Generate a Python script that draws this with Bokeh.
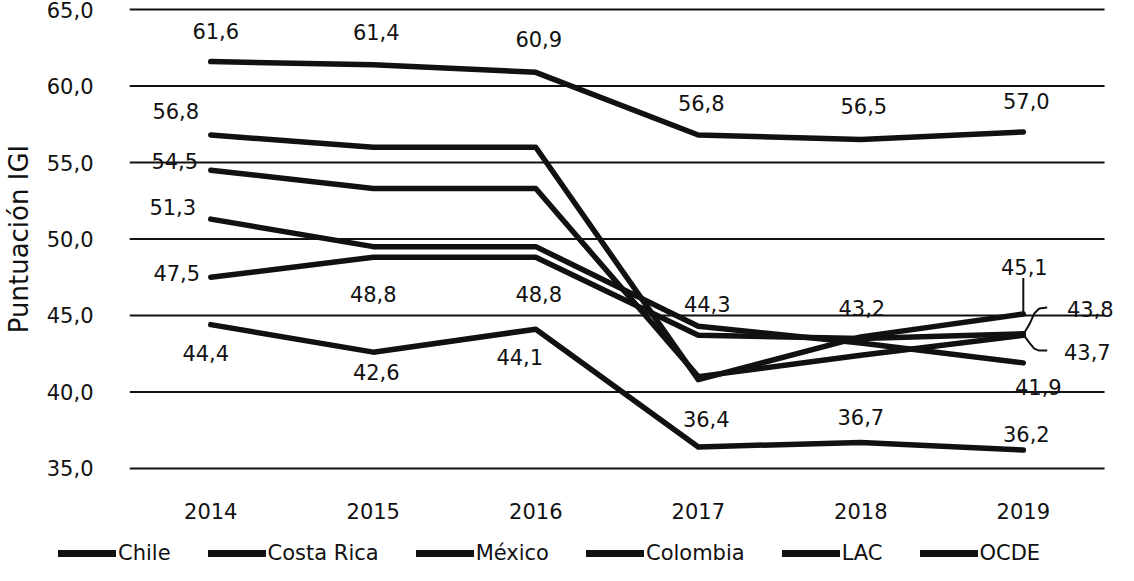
from bokeh.plotting import figure
from bokeh.layouts import column, row
from bokeh.models import (Range1d, FixedTicker, ColumnDataSource, LabelSet,
                          Legend, LegendItem)
from bokeh.core.properties import value
from bokeh.embed import file_html
from bokeh.resources import INLINE

# ---------------- data ----------------
years = [2014, 2015, 2016, 2017, 2018, 2019]
chile = [61.6, 61.4, 60.9, 56.8, 56.5, 57.0]
costa_rica = [56.8, 56.0, 56.0, 40.8, 43.6, 45.1]
mexico = [54.5, 53.3, 53.3, 41.0, 42.4, 43.7]
colombia = [51.3, 49.5, 49.5, 44.3, 43.2, 41.9]
ocde = [47.5, 48.8, 48.8, 43.7, 43.5, 43.8]
lac = [44.4, 42.6, 44.1, 36.4, 36.7, 36.2]
y_ticks = [35, 40, 45, 50, 55, 60, 65]

series = [("Chile", chile), ("Costa Rica", costa_rica), ("México", mexico),
          ("Colombia", colombia), ("LAC", lac), ("OCDE", ocde)]

# label offsets in screen px (dx, dy up); None = no label shown
label_offsets = {
    "Chile": [(5, 31), (3, 33), (3, 33), (3, 32), (3, 34), (3, 31)],
    "Costa Rica": [(-35, 24), None, None, None, None, (1, 47)],
    "México": [(-36, 9), None, None, None, None, (64, -17)],
    "Colombia": [(-38, 12), None, None, (9, 22), (1, 35), (15, -24)],
    "OCDE": [(-34, 4), (0, -37), (3, -37), None, None, (67, 25)],
    "LAC": [(-5, -28), (3, -20), (-16, -28), (8, 28), (0, 25), (3, 16)],
}

FONT = "DejaVu Sans"
INK = "#111111"
LW = 5.5

W = 1118
H_LEG = 30
H = 565 - H_LEG
ML, MR, MT, MB = 125, 0, 3, 61
PX_X = 979 / 6.0
x0 = 2013.5
x1 = x0 + (W - ML - MR) / PX_X
grid_end = 2019.5
ypad = 0.4
y0, y1 = 35 - ypad, 65 + ypad
PX_Y = (H - MT - MB) / (y1 - y0)

p = figure(width=W, height=H, x_range=Range1d(x0, x1), y_range=Range1d(y0, y1),
           output_backend="svg", toolbar_location=None,
           min_border_left=ML, min_border_right=MR, min_border_top=MT,
           min_border_bottom=MB)
p.outline_line_color = None
p.background_fill_color = "white"
p.border_fill_color = "white"

# axes
p.xaxis.ticker = FixedTicker(ticks=years)
p.xaxis.major_label_overrides = {y: str(y) for y in years}
p.yaxis.ticker = FixedTicker(ticks=y_ticks)
p.yaxis.major_label_overrides = {t: f"{t:.1f}".replace(".", ",") for t in y_ticks}
for ax in (p.xaxis[0], p.yaxis[0]):
    ax.axis_line_color = None
    ax.major_tick_line_color = None
    ax.minor_tick_line_color = None
    ax.major_label_text_font = FONT
    ax.major_label_text_font_size = "21px"
    ax.major_label_text_color = INK
p.xaxis.major_label_standoff = 22
p.yaxis.major_label_standoff = 30
p.yaxis.axis_label = "Puntuación IGI"
p.yaxis.axis_label_text_font = FONT
p.yaxis.axis_label_text_font_size = "26px"
p.yaxis.axis_label_text_font_style = "normal"
p.yaxis.axis_label_text_color = INK
p.yaxis.axis_label_standoff = 10

p.xgrid.visible = False
p.ygrid.visible = False
n = len(y_ticks)
p.segment(x0=[x0] * n, x1=[grid_end] * n, y0=y_ticks, y1=y_ticks,
          line_color=INK, line_width=2)

# lines
for name, vals in series:
    p.line(years, vals, line_color=INK, line_width=LW,
           line_join="round", line_cap="round")

# leader line for Costa Rica 2019
cr_last = costa_rica[-1]
p.line([years[-1], years[-1]], [cr_last + 2 / PX_Y, cr_last + 36 / PX_Y],
       line_color=INK, line_width=2)

# bracket for México / OCDE 2019
mid = (mexico[-1] + ocde[-1]) / 2
top_arm = [(0, 0), (6, 10), (11, 21), (16, 26), (24, 27)]
bot_arm = [(0, 0), (6, -8), (11, -14), (16, -16), (24, -16)]
for arm in (top_arm, bot_arm):
    p.line([years[-1] + dx / PX_X for dx, dy in arm],
           [mid + dy / PX_Y for dx, dy in arm],
           line_color=INK, line_width=2, line_join="round")

# data labels
lx, ly, lt, lxo, lyo = [], [], [], [], []
for name, vals in series:
    for yr, v, off in zip(years, vals, label_offsets[name]):
        if off is None:
            continue
        lx.append(yr)
        ly.append(v)
        lt.append(f"{v:.1f}".replace(".", ","))
        lxo.append(off[0])
        lyo.append(off[1])
src = ColumnDataSource(dict(x=lx, y=ly, text=lt, xo=lxo, yo=lyo))
labels = LabelSet(x="x", y="y", text="text", x_offset="xo", y_offset="yo",
                  source=src, text_align="center", text_baseline="middle",
                  text_font=value(FONT), text_font_size="21px", text_color=INK)
p.add_layout(labels)

# legend strip (separate figure below the chart; its ranges hide the lines)
pl = figure(width=W, height=H_LEG, x_range=Range1d(0, 1), y_range=Range1d(0, 1),
            output_backend="svg", toolbar_location=None,
            min_border=0, min_border_left=0, min_border_right=0,
            min_border_top=0, min_border_bottom=0,
            x_axis_location=None, y_axis_location=None)
pl.grid.visible = False
pl.outline_line_color = None
items = []
for name, vals in series:
    r = pl.line(years, vals, line_color=INK, line_width=7, line_cap="round")
    items.append(LegendItem(label=name, renderers=[r]))
legend = Legend(items=items, location=(58, 0), orientation="horizontal",
                glyph_width=58, glyph_height=20, label_standoff=2, spacing=37,
                padding=0, margin=0, border_line_color=None,
                background_fill_alpha=0,
                label_text_font=FONT, label_text_font_size="21px",
                label_text_color=INK)
pl.add_layout(legend, "center")

layout = column(row(p), row(pl), spacing=0)
open("out.html", "w").write(file_html(layout, INLINE))
